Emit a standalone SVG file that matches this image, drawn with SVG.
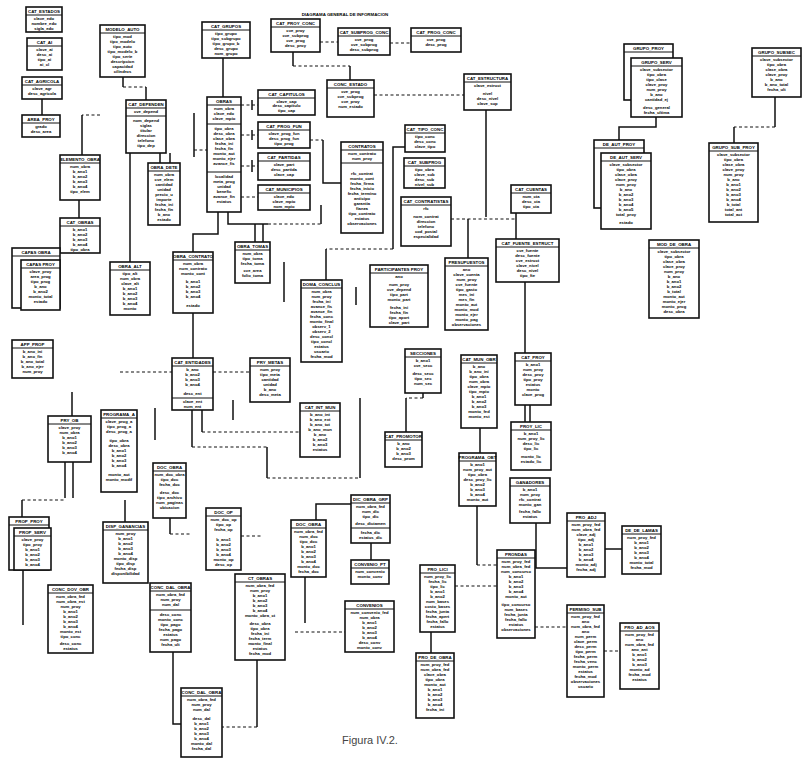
<svg xmlns="http://www.w3.org/2000/svg" width="802" height="758" viewBox="0 0 802 758">
<style>
.b{fill:#fff;stroke:#111;stroke-width:1.6}
.s{fill:none;stroke:#111;stroke-width:1.5}
.d{fill:none;stroke:#111;stroke-width:1.2;stroke-dasharray:3 2.5}
.v{fill:none;stroke:#111;stroke-width:1}
.h{font:bold 4.4px "Liberation Sans",Arial,sans-serif;fill:#000;text-anchor:middle}
.r{font:bold 4.2px "Liberation Sans",Arial,sans-serif;fill:#000;text-anchor:middle}
.cap{font:11px "Liberation Sans",Arial,sans-serif;fill:#444;text-anchor:middle}
</style>
<rect width="802" height="758" fill="#fff"/>
<text class="h" x="345" y="15.5">DIAGRAMA GENERAL DE INFORMACION</text>

<g id="connectors">
<path class="s" d="M42,99V115M123,77V87M146,87V100M223,58V97M82,115V155M160,153V163M170,153V163M194,113V157"/>
<path class="d" d="M123,87H146M100,115H82M194,150H207M241,105H258M241,135H258M241,166H258M241,197H258"/>
<path class="s" d="M252,100V110M252,130V140M252,160V172"/>
<path class="s" d="M293,52V66M350,66V80"/>
<path class="d" d="M293,66H350M320,42H338M390,43H411M374,95H464"/>
<path class="s" d="M486,110V217M468,219V258M516,213V239"/>
<path class="d" d="M451,219H516M310,140H323"/>
<path class="s" d="M323,140V183H341M405,147H393V249M326,249V280"/>
<path class="d" d="M393,249H326"/>
<path class="s" d="M218,212V234H193V252M228,212V224H268M321,224V205M255,224V242M263,224V242"/>
<path class="d" d="M268,224H321"/>
<path class="s" d="M130,153V262M79,200V218M193,313V358"/>
<path class="d" d="M120,372H172M213,372H250M202,432H300M192,447H267M267,478H360"/>
<path class="s" d="M202,410V432M192,410V447M267,447V478M360,478V398M233,400V420M155,408V440"/>
<path class="s" d="M525,282V353M525,405V422M530,405V422M480,428V453M477,506V565"/>
<path class="d" d="M477,565H497M423,398H406M775,127H734"/>
<path class="s" d="M423,393V398M406,398V432M656,117V127H619V140M775,97V127M734,127V143"/>
<path class="s" d="M72,392V416M65,462V498M73,462V498M22,500V517M125,500V522M170,518V534"/>
<path class="d" d="M22,500H65M170,534H190M241,536H262"/>
<path class="s" d="M173,652V724H181M257,660V727M23,570V625M305,577V623M371,543V560M351,504H316V520M431,632V653"/>
<path class="d" d="M257,727H222M295,632H345M455,586H497M535,627H567M604,651H620"/>
<path class="s" d="M605,549H622M536,523V568H567M284,262V302M356,287V305"/>
</g>

<g id="cat_estados"><rect class="b" x="26" y="7" width="36" height="25"/><path class="v" d="M26,15h36"/><text class="h" x="44" y="13">CAT_ESTADOS</text><text class="r" y="20"><tspan x="44">clave_edo</tspan><tspan x="44" dy="5">nombre_edo</tspan><tspan x="44" dy="5">sigla_edo</tspan></text></g>
<g id="cat_ai"><rect class="b" x="27" y="38" width="35" height="32"/><path class="v" d="M27,46h35"/><text class="h" x="44.5" y="44">CAT_AI</text><text class="r" y="51"><tspan x="44.5">clave_ai</tspan><tspan x="44.5" dy="5">desc_ai</tspan><tspan x="44.5" dy="5">tipo_ai</tspan><tspan x="44.5" dy="5">ai_cl</tspan></text></g>
<g id="cat_agricola"><rect class="b" x="22" y="77" width="40" height="22"/><path class="v" d="M22,85h40"/><text class="h" x="42" y="83">CAT_AGRICOLA</text><text class="r" y="90"><tspan x="42">clave_agr</tspan><tspan x="42" dy="5">desc_agricola</tspan></text></g>
<g id="area_proy"><rect class="b" x="22" y="115" width="38" height="22"/><path class="v" d="M22,123h38"/><text class="h" x="41" y="121">AREA_PROY</text><text class="r" y="128"><tspan x="41">grado</tspan><tspan x="41" dy="5">desc_area</tspan></text></g>
<g id="modelo_auto"><rect class="b" x="100" y="25" width="45" height="52"/><path class="v" d="M100,33h45"/><text class="h" x="122.5" y="31">MODELO_AUTO</text><text class="r" y="38"><tspan x="122.5">tipo_mod</tspan><tspan x="122.5" dy="5">tipo_modelo</tspan><tspan x="122.5" dy="5">tipo_auto</tspan><tspan x="122.5" dy="5">tipo_modelo_b</tspan><tspan x="122.5" dy="5">tipo_serie</tspan><tspan x="122.5" dy="5">descripcion</tspan><tspan x="122.5" dy="5">capacidad</tspan><tspan x="122.5" dy="5">cilindros</tspan></text></g>
<g id="cat_grupos"><rect class="b" x="202" y="22" width="48" height="36"/><path class="v" d="M202,30h48"/><text class="h" x="226" y="28">CAT_GRUPOS</text><text class="r" y="35"><tspan x="226">tipo_grupo</tspan><tspan x="226" dy="5">tipo_subgrupo</tspan><tspan x="226" dy="5">tipo_grupo_b</tspan><tspan x="226" dy="5">desc_grupo</tspan><tspan x="226" dy="5">nom_grupo</tspan></text></g>
<g id="cat_proy_conc"><rect class="b" x="271" y="19" width="49" height="33"/><path class="v" d="M271,27h49"/><text class="h" x="295.5" y="25">CAT_PROY_CONC</text><text class="r" y="32"><tspan x="295.5">cve_proy</tspan><tspan x="295.5" dy="5">cve_subprog</tspan><tspan x="295.5" dy="5">cve_prog</tspan><tspan x="295.5" dy="5">desc_proy</tspan></text></g>
<g id="cat_subprog_conc"><rect class="b" x="338" y="28" width="52" height="27"/><path class="v" d="M338,36h52"/><text class="h" x="364" y="34">CAT_SUBPROG_CONC</text><text class="r" y="41"><tspan x="364">cve_prog</tspan><tspan x="364" dy="5">cve_subprog</tspan><tspan x="364" dy="5">desc_subprog</tspan></text></g>
<g id="cat_prog_conc"><rect class="b" x="411" y="28" width="50" height="24"/><path class="v" d="M411,36h50"/><text class="h" x="436" y="34">CAT_PROG_CONC</text><text class="r" y="41"><tspan x="436">cve_prog</tspan><tspan x="436" dy="5">desc_prog</tspan></text></g>
<g id="conc_estado"><rect class="b" x="327" y="80" width="47" height="37"/><path class="v" d="M327,88h47"/><text class="h" x="350.5" y="86">CONC_ESTADO</text><text class="r" y="93"><tspan x="350.5">cve_prog</tspan><tspan x="350.5" dy="5">cve_subprog</tspan><tspan x="350.5" dy="5">cve_proy</tspan><tspan x="350.5" dy="5">num_estado</tspan></text></g>
<g id="cat_estructura"><rect class="b" x="464" y="74" width="47" height="36"/><path class="v" d="M464,82h47"/><text class="h" x="487.5" y="80">CAT_ESTRUCTURA</text><text class="r" y="87"><tspan x="487.5">clave_estruct</tspan><tspan x="487.5" dy="8">nivel</tspan><tspan x="487.5" dy="5">desc_nivel</tspan><tspan x="487.5" dy="5">clave_sup</tspan></text></g>
<g id="grupo_serv"><rect class="b" x="624" y="44" width="49" height="56"/><path class="v" d="M624,52h49"/><text class="h" x="648.5" y="50">GRUPO_PROY</text><rect class="b" x="631" y="58" width="51" height="59"/><path class="v" d="M631,66h51"/><text class="h" x="656.5" y="64">GRUPO_SERV</text><text class="r" y="71"><tspan x="656.5">clave_subsector</tspan><tspan x="656.5" dy="5">tipo_obra</tspan><tspan x="656.5" dy="5">tipo_clase</tspan><tspan x="656.5" dy="5">clave_proy</tspan><tspan x="656.5" dy="5">num_proy</tspan><tspan x="656.5" dy="5">b_ano</tspan><tspan x="656.5" dy="5">cantidad_ej</tspan><tspan x="656.5" dy="8">desc_general</tspan><tspan x="656.5" dy="5">fecha_ultima</tspan></text></g>
<g id="de_aut_serv"><rect class="b" x="594" y="140" width="50" height="68"/><path class="v" d="M594,148h50"/><text class="h" x="619" y="146">DE_AUT_PROY</text><rect class="b" x="601" y="153" width="50" height="76"/><path class="v" d="M601,161h50"/><text class="h" x="626" y="159">DE_AUT_SERV</text><text class="r" y="166"><tspan x="626">clave_subsector</tspan><tspan x="626" dy="5">tipo_obra</tspan><tspan x="626" dy="5">clase_obra</tspan><tspan x="626" dy="5">clave_proy</tspan><tspan x="626" dy="5">num_proy</tspan><tspan x="626" dy="5">b_ano</tspan><tspan x="626" dy="5">b_ano2</tspan><tspan x="626" dy="5">b_ano3</tspan><tspan x="626" dy="5">b_ano4</tspan><tspan x="626" dy="5">b_ano5</tspan><tspan x="626" dy="5">total_proy</tspan><tspan x="626" dy="8">estado</tspan></text></g>
<g id="grupo_subsec"><rect class="b" x="752" y="48" width="49" height="49"/><path class="v" d="M752,56h49"/><text class="h" x="776.5" y="54">GRUPO_SUBSEC</text><text class="r" y="61"><tspan x="776.5">clave_subsector</tspan><tspan x="776.5" dy="5">tipo_obra</tspan><tspan x="776.5" dy="5">clase_obra</tspan><tspan x="776.5" dy="5">clave_proy</tspan><tspan x="776.5" dy="5">b_ano</tspan><tspan x="776.5" dy="5">b_ano_total</tspan><tspan x="776.5" dy="5">fecha_ult</tspan></text></g>
<g id="grupo_sub_proy"><rect class="b" x="709" y="143" width="49" height="79"/><path class="v" d="M709,151h49"/><text class="h" x="733.5" y="149">GRUPO_SUB_PROY</text><text class="r" y="156"><tspan x="733.5">clave_subsector</tspan><tspan x="733.5" dy="5">tipo_obra</tspan><tspan x="733.5" dy="5">clase_obra</tspan><tspan x="733.5" dy="5">clave_proy</tspan><tspan x="733.5" dy="5">num_proy</tspan><tspan x="733.5" dy="5">b_ano</tspan><tspan x="733.5" dy="5">b_ano1</tspan><tspan x="733.5" dy="5">b_ano2</tspan><tspan x="733.5" dy="5">b_ano3</tspan><tspan x="733.5" dy="5">b_ano4</tspan><tspan x="733.5" dy="5">b_total</tspan><tspan x="733.5" dy="5">total_ant</tspan><tspan x="733.5" dy="5">total_act</tspan></text></g>
<g id="mod_de_obra"><rect class="b" x="649" y="240" width="50" height="78"/><path class="v" d="M649,248h50"/><text class="h" x="674" y="246">MOD_DE_OBRA</text><text class="r" y="253"><tspan x="674">clave_subsector</tspan><tspan x="674" dy="5">tipo_obra</tspan><tspan x="674" dy="5">clase_obra</tspan><tspan x="674" dy="5">clave_proy</tspan><tspan x="674" dy="5">num_proy</tspan><tspan x="674" dy="5">b_ano</tspan><tspan x="674" dy="5">b_ano1</tspan><tspan x="674" dy="5">b_ano2</tspan><tspan x="674" dy="5">b_total</tspan><tspan x="674" dy="5">monto_aut</tspan><tspan x="674" dy="5">monto_ejer</tspan><tspan x="674" dy="5">monto_prog</tspan><tspan x="674" dy="5">desc_obra</tspan></text></g>
<g id="cat_cuentas"><rect class="b" x="511" y="185" width="40" height="28"/><path class="v" d="M511,193h40"/><text class="h" x="531" y="191">CAT_CUENTAS</text><text class="r" y="198"><tspan x="531">num_cta</tspan><tspan x="531" dy="5">desc_cta</tspan><tspan x="531" dy="5">tipo_cta</tspan></text></g>
<g id="cat_fuente"><rect class="b" x="496" y="239" width="63" height="43"/><path class="v" d="M496,247h63"/><text class="h" x="527.5" y="245">CAT_FUENTE_ESTRUCT</text><text class="r" y="252"><tspan x="527.5">cve_fuente</tspan><tspan x="527.5" dy="5">desc_fuente</tspan><tspan x="527.5" dy="5">cve_estruct</tspan><tspan x="527.5" dy="5">clave_nivel</tspan><tspan x="527.5" dy="5">desc_nivel</tspan><tspan x="527.5" dy="5">tipo_fte</tspan></text></g>
<g id="presupuestos"><rect class="b" x="445" y="258" width="43" height="72"/><path class="v" d="M445,266h43"/><text class="h" x="466.5" y="264">PRESUPUESTOS</text><text class="r" y="271"><tspan x="466.5">ano</tspan><tspan x="466.5" dy="5">clave_cuenta</tspan><tspan x="466.5" dy="5">num_proy</tspan><tspan x="466.5" dy="5">cve_fuente</tspan><tspan x="466.5" dy="5">tipo_gasto</tspan><tspan x="466.5" dy="5">mes_ini</tspan><tspan x="466.5" dy="5">mes_fin</tspan><tspan x="466.5" dy="5">monto_aut</tspan><tspan x="466.5" dy="5">monto_mod</tspan><tspan x="466.5" dy="5">monto_ejer</tspan><tspan x="466.5" dy="5">monto_pag</tspan><tspan x="466.5" dy="5">observaciones</tspan></text></g>
<g id="participantes"><rect class="b" x="370" y="265" width="58" height="62"/><path class="v" d="M370,273h58"/><text class="h" x="399" y="271">PARTICIPANTES PROY</text><text class="r" y="278"><tspan x="399">ano</tspan><tspan x="399" dy="8">num_proy</tspan><tspan x="399" dy="5">cve_depend</tspan><tspan x="399" dy="5">tipo_part</tspan><tspan x="399" dy="5">monto_part</tspan><tspan x="399" dy="8">fecha_ini</tspan><tspan x="399" dy="5">fecha_fin</tspan><tspan x="399" dy="5">tipo_aport</tspan><tspan x="399" dy="5">clave_part</tspan></text></g>
<g id="doma_conclus"><rect class="b" x="301" y="280" width="41" height="82"/><path class="v" d="M301,288h41"/><text class="h" x="321.5" y="286">DOMA_CONCLUS</text><text class="r" y="293"><tspan x="321.5">num_obra</tspan><tspan x="321.5" dy="5">num_proy</tspan><tspan x="321.5" dy="5">fecha_ini</tspan><tspan x="321.5" dy="5">avance_fis</tspan><tspan x="321.5" dy="5">avance_fin</tspan><tspan x="321.5" dy="5">fecha_conc</tspan><tspan x="321.5" dy="5">monto_final</tspan><tspan x="321.5" dy="5">observ_1</tspan><tspan x="321.5" dy="5">observ_2</tspan><tspan x="321.5" dy="5">desc_concl</tspan><tspan x="321.5" dy="5">tipo_concl</tspan><tspan x="321.5" dy="5">estatus</tspan><tspan x="321.5" dy="5">usuario</tspan><tspan x="321.5" dy="5">fecha_mod</tspan></text></g>
<g id="cat_contratistas"><rect class="b" x="401" y="197" width="50" height="49"/><path class="v" d="M401,205h50"/><text class="h" x="426" y="203">CAT_CONTRATISTAS</text><text class="r" y="210"><tspan x="426">rfc</tspan><tspan x="426" dy="8">nom_contrat</tspan><tspan x="426" dy="5">direccion</tspan><tspan x="426" dy="5">telefono</tspan><tspan x="426" dy="5">cod_postal</tspan><tspan x="426" dy="5">especialidad</tspan></text></g>
<g id="cat_tipo_conc"><rect class="b" x="405" y="125" width="40" height="27"/><path class="v" d="M405,133h40"/><text class="h" x="425" y="131">CAT_TIPO_CONC</text><text class="r" y="138"><tspan x="425">tipo_conc</tspan><tspan x="425" dy="5">desc_conc</tspan><tspan x="425" dy="5">clave_tipo</tspan></text></g>
<g id="cat_subprog_obra"><rect class="b" x="404" y="158" width="41" height="30"/><path class="v" d="M404,166h41"/><text class="h" x="424.5" y="164">CAT_SUBPROG</text><text class="r" y="171"><tspan x="424.5">tipo_obra</tspan><tspan x="424.5" dy="5">clave_sub</tspan><tspan x="424.5" dy="5">desc_sub</tspan><tspan x="424.5" dy="5">nivel_sub</tspan></text></g>
<g id="contratos"><rect class="b" x="341" y="142" width="42" height="91"/><path class="v" d="M341,150h42M341,163h42"/><text class="h" x="362" y="148">CONTRATOS</text><text class="r" y="155"><tspan x="362">num_contrato</tspan><tspan x="362" dy="5">num_proy</tspan><tspan x="362" dy="15">rfc_contrat</tspan><tspan x="362" dy="5">monto_cont</tspan><tspan x="362" dy="5">fecha_firma</tspan><tspan x="362" dy="5">fecha_inicio</tspan><tspan x="362" dy="5">fecha_termino</tspan><tspan x="362" dy="5">anticipo</tspan><tspan x="362" dy="5">garantia</tspan><tspan x="362" dy="5">fianza</tspan><tspan x="362" dy="5">tipo_contrato</tspan><tspan x="362" dy="5">estatus</tspan><tspan x="362" dy="5">observaciones</tspan></text></g>
<g id="cat_capitulos"><rect class="b" x="258" y="90" width="57" height="25"/><path class="v" d="M258,98h57"/><text class="h" x="286.5" y="96">CAT_CAPITULOS</text><text class="r" y="102.5"><tspan x="286.5">clave_cap</tspan><tspan x="286.5" dy="4.5">desc_capitulo</tspan><tspan x="286.5" dy="4.5">tipo_cap</tspan></text></g>
<g id="cat_prog_fun"><rect class="b" x="258" y="122" width="52" height="26"/><path class="v" d="M258,130h52"/><text class="h" x="284" y="128">CAT_PROG_FUN</text><text class="r" y="135"><tspan x="284">clave_prog_fun</tspan><tspan x="284" dy="5">desc_prog_fun</tspan><tspan x="284" dy="5">tipo_prog</tspan></text></g>
<g id="cat_partidas"><rect class="b" x="258" y="153" width="52" height="27"/><path class="v" d="M258,161h52"/><text class="h" x="284" y="159">CAT_PARTIDAS</text><text class="r" y="166"><tspan x="284">clave_part</tspan><tspan x="284" dy="5">desc_partida</tspan><tspan x="284" dy="5">clave_cap</tspan></text></g>
<g id="cat_municipios"><rect class="b" x="258" y="185" width="52" height="25"/><path class="v" d="M258,193h52"/><text class="h" x="284" y="191">CAT_MUNICIPIOS</text><text class="r" y="198"><tspan x="284">clave_edo</tspan><tspan x="284" dy="5">clave_mpio</tspan><tspan x="284" dy="5">nom_mpio</tspan></text></g>
<g id="obras"><rect class="b" x="207" y="97" width="34" height="115"/><path class="v" d="M207,105h34M207,124h34M207,172h34"/><text class="h" x="224" y="103">OBRAS</text><text class="r" y="110"><tspan x="224">num_obra</tspan><tspan x="224" dy="5">clave_edo</tspan><tspan x="224" dy="5">clave_mpio</tspan><tspan x="224" dy="10">tipo_obra</tspan><tspan x="224" dy="5">desc_obra</tspan><tspan x="224" dy="5">clase_obra</tspan><tspan x="224" dy="5">fecha_ini</tspan><tspan x="224" dy="5">fecha_fin</tspan><tspan x="224" dy="5">monto_aut</tspan><tspan x="224" dy="5">monto_ejer</tspan><tspan x="224" dy="5">avance_fis</tspan><tspan x="224" dy="13">localidad</tspan><tspan x="224" dy="5">meta_prog</tspan><tspan x="224" dy="5">unidad</tspan><tspan x="224" dy="5">benefic</tspan><tspan x="224" dy="5">avance_fin</tspan><tspan x="224" dy="5">estatus</tspan></text></g>
<g id="cat_dependen"><rect class="b" x="126" y="100" width="40" height="53"/><path class="v" d="M126,108h40M126,116h40"/><text class="h" x="146" y="106">CAT_DEPENDEN</text><text class="r" y="113"><tspan x="146">cve_depend</tspan><tspan x="146" dy="9">nom_depend</tspan><tspan x="146" dy="5">siglas</tspan><tspan x="146" dy="5">titular</tspan><tspan x="146" dy="5">direccion</tspan><tspan x="146" dy="5">telefono</tspan><tspan x="146" dy="5">tipo_dep</tspan></text></g>
<g id="elemento_obra"><rect class="b" x="60" y="155" width="40" height="45"/><path class="v" d="M60,163h40"/><text class="h" x="80" y="161">ELEMENTO_OBRA</text><text class="r" y="168"><tspan x="80">num_obra</tspan><tspan x="80" dy="5">b_ano1</tspan><tspan x="80" dy="5">b_ano2</tspan><tspan x="80" dy="5">b_ano3</tspan><tspan x="80" dy="5">b_ano4</tspan><tspan x="80" dy="5">tipo_elem</tspan></text></g>
<g id="obra_dete"><rect class="b" x="148" y="163" width="32" height="62"/><path class="v" d="M148,171h32"/><text class="h" x="164" y="169">OBRA_DETE</text><text class="r" y="176"><tspan x="164">num_obra</tspan><tspan x="164" dy="5">cve_elem</tspan><tspan x="164" dy="5">cantidad</tspan><tspan x="164" dy="5">unidad</tspan><tspan x="164" dy="5">precio_u</tspan><tspan x="164" dy="5">importe</tspan><tspan x="164" dy="5">fecha_ini</tspan><tspan x="164" dy="5">fecha_fin</tspan><tspan x="164" dy="5">b_ano</tspan><tspan x="164" dy="5">estado</tspan></text></g>
<g id="cat_obras"><rect class="b" x="60" y="218" width="40" height="35"/><path class="v" d="M60,226h40"/><text class="h" x="80" y="224">CAT_OBRAS</text><text class="r" y="231"><tspan x="80">b_ano1</tspan><tspan x="80" dy="5">b_ano2</tspan><tspan x="80" dy="5">b_ano3</tspan><tspan x="80" dy="5">b_ano4</tspan><tspan x="80" dy="5">tipo_obra</tspan></text></g>
<g id="capas_proy"><rect class="b" x="12" y="248" width="48" height="60"/><path class="v" d="M12,256h48"/><text class="h" x="36" y="254">CAPAS OBRA</text><rect class="b" x="21" y="260" width="39" height="50"/><path class="v" d="M21,268h39"/><text class="h" x="40.5" y="266">CAPAS PROY</text><text class="r" y="273"><tspan x="40.5">clave_proy</tspan><tspan x="40.5" dy="5">area_prog</tspan><tspan x="40.5" dy="5">tipo_prog</tspan><tspan x="40.5" dy="5">b_ano</tspan><tspan x="40.5" dy="5">b_ano2</tspan><tspan x="40.5" dy="5">monto_total</tspan><tspan x="40.5" dy="5">estado</tspan></text></g>
<g id="obra_alt"><rect class="b" x="110" y="262" width="40" height="53"/><path class="v" d="M110,270h40"/><text class="h" x="130" y="268">OBRA_ALT</text><text class="r" y="275"><tspan x="130">tipo_alt</tspan><tspan x="130" dy="5">num_obra</tspan><tspan x="130" dy="5">clave_alt</tspan><tspan x="130" dy="5">b_ano1</tspan><tspan x="130" dy="5">b_ano2</tspan><tspan x="130" dy="5">b_ano3</tspan><tspan x="130" dy="5">b_ano4</tspan><tspan x="130" dy="5">monto</tspan></text></g>
<g id="obra_contrato"><rect class="b" x="173" y="252" width="40" height="61"/><path class="v" d="M173,260h40"/><text class="h" x="193" y="258">OBRA_CONTRATO</text><text class="r" y="265"><tspan x="193">num_obra</tspan><tspan x="193" dy="5">num_contrato</tspan><tspan x="193" dy="5">monto_cont</tspan><tspan x="193" dy="8">b_ano1</tspan><tspan x="193" dy="5">b_ano2</tspan><tspan x="193" dy="5">b_ano3</tspan><tspan x="193" dy="5">b_ano4</tspan><tspan x="193" dy="9">estado</tspan></text></g>
<g id="obra_tomas"><rect class="b" x="235" y="242" width="35" height="41"/><path class="v" d="M235,250h35"/><text class="h" x="252.5" y="248">OBRA_TOMAS</text><text class="r" y="255"><tspan x="252.5">num_obra</tspan><tspan x="252.5" dy="5">tipo_toma</tspan><tspan x="252.5" dy="5">fecha_toma</tspan><tspan x="252.5" dy="7">cve_area</tspan><tspan x="252.5" dy="5">folio_toma</tspan></text></g>
<g id="app_prop"><rect class="b" x="12" y="340" width="41" height="38"/><path class="v" d="M12,348h41"/><text class="h" x="32.5" y="346">APP_PROP</text><text class="r" y="353"><tspan x="32.5">b_ano_ini</tspan><tspan x="32.5" dy="5">b_ano_fin</tspan><tspan x="32.5" dy="5">b_ano_total</tspan><tspan x="32.5" dy="5">b_ano_ejer</tspan><tspan x="32.5" dy="5">num_proy</tspan></text></g>
<g id="cat_entidades"><rect class="b" x="172" y="358" width="41" height="52"/><path class="v" d="M172,366h41M172,398h41"/><text class="h" x="192.5" y="364">CAT_ENTIDADES</text><text class="r" y="371"><tspan x="192.5">b_ano</tspan><tspan x="192.5" dy="5">b_ano2</tspan><tspan x="192.5" dy="5">b_ano3</tspan><tspan x="192.5" dy="5">b_ano4</tspan><tspan x="192.5" dy="9">desc_ent</tspan><tspan x="192.5" dy="8">clave_ent</tspan><tspan x="192.5" dy="5">num_ent</tspan></text></g>
<g id="pry_metas"><rect class="b" x="250" y="358" width="40" height="44"/><path class="v" d="M250,366h40"/><text class="h" x="270" y="364">PRY_METAS</text><text class="r" y="371"><tspan x="270">num_proy</tspan><tspan x="270" dy="5">tipo_meta</tspan><tspan x="270" dy="5">cantidad</tspan><tspan x="270" dy="5">unidad</tspan><tspan x="270" dy="5">b_ano</tspan><tspan x="270" dy="5">desc_meta</tspan></text></g>
<g id="cat_int_mun"><rect class="b" x="300" y="403" width="40" height="54"/><path class="v" d="M300,411h40"/><text class="h" x="320" y="409">CAT_INT_MUN</text><text class="r" y="416"><tspan x="320">b_ano_int</tspan><tspan x="320" dy="5">b_ano_ext</tspan><tspan x="320" dy="5">b_ano_tot</tspan><tspan x="320" dy="5">b_ano_mun</tspan><tspan x="320" dy="5">b_ano</tspan><tspan x="320" dy="5">b_ano2</tspan><tspan x="320" dy="5">b_ano3</tspan><tspan x="320" dy="5">estatus</tspan></text></g>
<g id="secciones"><rect class="b" x="405" y="349" width="36" height="44"/><path class="v" d="M405,357h36"/><text class="h" x="423" y="355">SECCIONES</text><text class="r" y="362"><tspan x="423">b_ano1</tspan><tspan x="423" dy="5">cve_secc</tspan><tspan x="423" dy="8">desc_secc</tspan><tspan x="423" dy="5">tipo_sec</tspan><tspan x="423" dy="5">num_sec</tspan></text></g>
<g id="cat_promotor"><rect class="b" x="385" y="432" width="37" height="35"/><path class="v" d="M385,440h37"/><text class="h" x="403.5" y="438">CAT_PROMOTOR</text><text class="r" y="445"><tspan x="403.5">b_ano</tspan><tspan x="403.5" dy="5">b_ano2</tspan><tspan x="403.5" dy="5">b_ano3</tspan><tspan x="403.5" dy="5">desc_prom</tspan></text></g>
<g id="cat_mun_obr"><rect class="b" x="461" y="355" width="36" height="73"/><path class="v" d="M461,363h36"/><text class="h" x="479" y="361">CAT_MUN_OBR</text><text class="r" y="368"><tspan x="479">b_ano</tspan><tspan x="479" dy="5">b_ano_ini</tspan><tspan x="479" dy="5">tipo_obra</tspan><tspan x="479" dy="5">num_obra</tspan><tspan x="479" dy="5">clave_mpio</tspan><tspan x="479" dy="5">tipo_mpio</tspan><tspan x="479" dy="5">b_ano1</tspan><tspan x="479" dy="5">b_ano2</tspan><tspan x="479" dy="5">b_ano3</tspan><tspan x="479" dy="5">monto_fed</tspan><tspan x="479" dy="5">monto_est</tspan></text></g>
<g id="programa_obt"><rect class="b" x="459" y="453" width="37" height="53"/><path class="v" d="M459,461h37"/><text class="h" x="477.5" y="459">PROGRAMA_OBT</text><text class="r" y="466"><tspan x="477.5">b_ano1</tspan><tspan x="477.5" dy="5">num_proy_aut</tspan><tspan x="477.5" dy="5">tipo_obra</tspan><tspan x="477.5" dy="5">desc_proy_lic</tspan><tspan x="477.5" dy="5">b_ano2</tspan><tspan x="477.5" dy="5">b_ano3</tspan><tspan x="477.5" dy="5">b_ano4</tspan><tspan x="477.5" dy="5">monto_aut</tspan></text></g>
<g id="cat_proy"><rect class="b" x="515" y="353" width="36" height="52"/><path class="v" d="M515,361h36"/><text class="h" x="533" y="359">CAT_PROY</text><text class="r" y="366"><tspan x="533">b_ano1</tspan><tspan x="533" dy="5">num_proy</tspan><tspan x="533" dy="5">desc_proy</tspan><tspan x="533" dy="5">tipo_proy</tspan><tspan x="533" dy="5">estatus</tspan><tspan x="533" dy="5">monto</tspan><tspan x="533" dy="5">clave_prog</tspan></text></g>
<g id="proy_lic"><rect class="b" x="511" y="422" width="40" height="48"/><path class="v" d="M511,430h40"/><text class="h" x="531" y="428">PROY_LIC</text><text class="r" y="435"><tspan x="531">b_ano1</tspan><tspan x="531" dy="5">num_proy_lic</tspan><tspan x="531" dy="5">desc_lic</tspan><tspan x="531" dy="5">tipo_lic</tspan><tspan x="531" dy="8">monto_lic</tspan><tspan x="531" dy="5">estado_lic</tspan></text></g>
<g id="ganadores"><rect class="b" x="510" y="478" width="40" height="45"/><path class="v" d="M510,486h40"/><text class="h" x="530" y="484">GANADORES</text><text class="r" y="491"><tspan x="530">b_ano1</tspan><tspan x="530" dy="5">num_proy</tspan><tspan x="530" dy="5">rfc_contrat</tspan><tspan x="530" dy="5">monto_gan</tspan><tspan x="530" dy="7">fecha_fallo</tspan><tspan x="530" dy="5">estatus</tspan></text></g>
<g id="pry_ob"><rect class="b" x="48" y="416" width="43" height="46"/><path class="v" d="M48,424h43"/><text class="h" x="69.5" y="422">PRY_OB</text><text class="r" y="429"><tspan x="69.5">clave_proy</tspan><tspan x="69.5" dy="5">num_obra</tspan><tspan x="69.5" dy="5">b_ano1</tspan><tspan x="69.5" dy="5">b_ano2</tspan><tspan x="69.5" dy="5">b_ano3</tspan><tspan x="69.5" dy="5">b_ano4</tspan></text></g>
<g id="programa_a"><rect class="b" x="101" y="410" width="36" height="82"/><path class="v" d="M101,418h36"/><text class="h" x="119" y="416">PROGRAMA_A</text><text class="r" y="423"><tspan x="119">clave_prog_a</tspan><tspan x="119" dy="5">tipo_prog_a</tspan><tspan x="119" dy="5">desc_prog_a</tspan><tspan x="119" dy="9">tipo_obra</tspan><tspan x="119" dy="5">desc_obra</tspan><tspan x="119" dy="5">b_ano1</tspan><tspan x="119" dy="5">b_ano2</tspan><tspan x="119" dy="5">b_ano3</tspan><tspan x="119" dy="5">b_ano4</tspan><tspan x="119" dy="9">monto_aut</tspan><tspan x="119" dy="5">monto_modif</tspan></text></g>
<g id="doc_obra"><rect class="b" x="153" y="463" width="33" height="55"/><path class="v" d="M153,471h33"/><text class="h" x="169.5" y="469">DOC_OBRA</text><text class="r" y="476"><tspan x="169.5">num_doc_obra</tspan><tspan x="169.5" dy="5">tipo_doc</tspan><tspan x="169.5" dy="5">fecha_doc</tspan><tspan x="169.5" dy="8">desc_doc</tspan><tspan x="169.5" dy="5">tipo_archivo</tspan><tspan x="169.5" dy="5">num_paginas</tspan><tspan x="169.5" dy="5">ubicacion</tspan></text></g>
<g id="doc_op"><rect class="b" x="206" y="508" width="35" height="62"/><path class="v" d="M206,516h35"/><text class="h" x="223.5" y="514">DOC_OP</text><text class="r" y="521"><tspan x="223.5">num_doc_op</tspan><tspan x="223.5" dy="5">tipo_op</tspan><tspan x="223.5" dy="5">fecha_op</tspan><tspan x="223.5" dy="10">b_ano1</tspan><tspan x="223.5" dy="5">b_ano2</tspan><tspan x="223.5" dy="5">b_ano3</tspan><tspan x="223.5" dy="5">b_ano4</tspan><tspan x="223.5" dy="5">monto_op</tspan><tspan x="223.5" dy="5">desc_op</tspan></text></g>
<g id="prop_serv"><rect class="b" x="9" y="517" width="40" height="53"/><path class="v" d="M9,525h40"/><text class="h" x="29" y="523">PROP_PROY</text><rect class="b" x="14" y="528" width="37" height="42"/><path class="v" d="M14,536h37"/><text class="h" x="32.5" y="534">PROP_SERV</text><text class="r" y="541"><tspan x="32.5">clave_proy</tspan><tspan x="32.5" dy="5">tipo_proy</tspan><tspan x="32.5" dy="5">b_ano1</tspan><tspan x="32.5" dy="5">b_ano2</tspan><tspan x="32.5" dy="5">b_ano3</tspan><tspan x="32.5" dy="5">b_ano4</tspan></text></g>
<g id="disp_ganancias"><rect class="b" x="103" y="522" width="45" height="61"/><path class="v" d="M103,530h45"/><text class="h" x="125.5" y="528">DISP_GANANCIAS</text><text class="r" y="535"><tspan x="125.5">num_proy</tspan><tspan x="125.5" dy="5">b_ano1</tspan><tspan x="125.5" dy="5">b_ano2</tspan><tspan x="125.5" dy="5">b_ano3</tspan><tspan x="125.5" dy="5">b_ano4</tspan><tspan x="125.5" dy="5">monto_disp</tspan><tspan x="125.5" dy="5">tipo_disp</tspan><tspan x="125.5" dy="5">fecha_disp</tspan><tspan x="125.5" dy="5">disponibilidad</tspan></text></g>
<g id="conc_dov_obr"><rect class="b" x="48" y="585" width="45" height="68"/><path class="v" d="M48,593h45"/><text class="h" x="70.5" y="591">CONC_DOV_OBR</text><text class="r" y="598"><tspan x="70.5">num_obra_fed</tspan><tspan x="70.5" dy="5">num_obra_est</tspan><tspan x="70.5" dy="5">num_proy</tspan><tspan x="70.5" dy="5">b_ano1</tspan><tspan x="70.5" dy="5">b_ano2</tspan><tspan x="70.5" dy="5">b_ano3</tspan><tspan x="70.5" dy="5">b_ano4</tspan><tspan x="70.5" dy="5">monto_est</tspan><tspan x="70.5" dy="5">tipo_conc</tspan><tspan x="70.5" dy="7">desc_conc</tspan><tspan x="70.5" dy="5">estatus</tspan></text></g>
<g id="conc_dal_obra"><rect class="b" x="150" y="583" width="41" height="69"/><path class="v" d="M150,591h41M150,610h41"/><text class="h" x="170.5" y="589">CONC_DAL_OBRA</text><text class="r" y="596"><tspan x="170.5">num_obra_fed</tspan><tspan x="170.5" dy="5">num_proy</tspan><tspan x="170.5" dy="5">num_dal</tspan><tspan x="170.5" dy="10">desc_conc</tspan><tspan x="170.5" dy="5">monto_conc</tspan><tspan x="170.5" dy="5">tipo_pago</tspan><tspan x="170.5" dy="5">fecha_pago</tspan><tspan x="170.5" dy="5">estatus</tspan><tspan x="170.5" dy="5">num_pago</tspan><tspan x="170.5" dy="5">fecha_ult</tspan></text></g>
<g id="conc_dal_obra_2"><rect class="b" x="181" y="688" width="41" height="69"/><path class="v" d="M181,696h41"/><text class="h" x="201.5" y="694">CONC_DAL_OBRA</text><text class="r" y="701"><tspan x="201.5">num_obra_fed</tspan><tspan x="201.5" dy="5">num_proy</tspan><tspan x="201.5" dy="5">num_dal</tspan><tspan x="201.5" dy="9">desc_dal</tspan><tspan x="201.5" dy="5">b_ano1</tspan><tspan x="201.5" dy="5">b_ano2</tspan><tspan x="201.5" dy="5">b_ano3</tspan><tspan x="201.5" dy="5">b_ano4</tspan><tspan x="201.5" dy="5">monto_dal</tspan><tspan x="201.5" dy="5">fecha_dal</tspan></text></g>
<g id="ct_obras"><rect class="b" x="235" y="574" width="50" height="86"/><path class="v" d="M235,582h50"/><text class="h" x="260" y="580">CT_OBRAS</text><text class="r" y="587"><tspan x="260">num_obra_fed</tspan><tspan x="260" dy="5">num_proy</tspan><tspan x="260" dy="5">b_ano1</tspan><tspan x="260" dy="5">b_ano2</tspan><tspan x="260" dy="5">b_ano3</tspan><tspan x="260" dy="5">b_ano4</tspan><tspan x="260" dy="5">monto_obra_ct</tspan><tspan x="260" dy="8">desc_obra</tspan><tspan x="260" dy="5">tipo_obra</tspan><tspan x="260" dy="5">fecha_ini</tspan><tspan x="260" dy="5">fecha_term</tspan><tspan x="260" dy="5">monto_final</tspan><tspan x="260" dy="5">estatus</tspan><tspan x="260" dy="5">fecha_mod</tspan></text></g>
<g id="doc_obra_2"><rect class="b" x="291" y="520" width="35" height="57"/><path class="v" d="M291,528h35"/><text class="h" x="308.5" y="526">DOC_OBRA</text><text class="r" y="533"><tspan x="308.5">num_obra_fed</tspan><tspan x="308.5" dy="5">num_doc</tspan><tspan x="308.5" dy="5">tipo_doc</tspan><tspan x="308.5" dy="5">b_ano1</tspan><tspan x="308.5" dy="5">b_ano2</tspan><tspan x="308.5" dy="5">b_ano3</tspan><tspan x="308.5" dy="5">b_ano4</tspan><tspan x="308.5" dy="5">monto_doc</tspan><tspan x="308.5" dy="5">fecha_doc</tspan></text></g>
<g id="dic_obra"><rect class="b" x="351" y="495" width="39" height="48"/><path class="v" d="M351,503h39M351,528h39"/><text class="h" x="370.5" y="501">DIC_OBRA_GRP</text><text class="r" y="508"><tspan x="370.5">num_obra_fed</tspan><tspan x="370.5" dy="5">num_dic</tspan><tspan x="370.5" dy="5">tipo_dic</tspan><tspan x="370.5" dy="7">desc_dictamen</tspan><tspan x="370.5" dy="9">fecha_dic</tspan><tspan x="370.5" dy="5">estatus_dic</tspan></text></g>
<g id="convenio_pt"><rect class="b" x="351" y="560" width="38" height="24"/><path class="v" d="M351,568h38"/><text class="h" x="370" y="566">CONVENIO_PT</text><text class="r" y="573"><tspan x="370">num_convenio</tspan><tspan x="370" dy="5">monto_conv</tspan></text></g>
<g id="convenios"><rect class="b" x="345" y="601" width="49" height="51"/><path class="v" d="M345,609h49"/><text class="h" x="369.5" y="607">CONVENIOS</text><text class="r" y="614"><tspan x="369.5">num_convenio_fed</tspan><tspan x="369.5" dy="5">num_obra</tspan><tspan x="369.5" dy="5">b_ano1</tspan><tspan x="369.5" dy="5">b_ano2</tspan><tspan x="369.5" dy="5">b_ano3</tspan><tspan x="369.5" dy="5">b_ano4</tspan><tspan x="369.5" dy="5">desc_conv</tspan><tspan x="369.5" dy="5">monto_conv</tspan></text></g>
<g id="pro_lici"><rect class="b" x="420" y="565" width="35" height="67"/><path class="v" d="M420,573h35"/><text class="h" x="437.5" y="571">PRO_LICI</text><text class="r" y="578"><tspan x="437.5">num_proy_lic</tspan><tspan x="437.5" dy="5">fecha_lic</tspan><tspan x="437.5" dy="5">tipo_lic</tspan><tspan x="437.5" dy="5">b_ano1</tspan><tspan x="437.5" dy="5">b_ano2</tspan><tspan x="437.5" dy="5">num_bases</tspan><tspan x="437.5" dy="5">costo_bases</tspan><tspan x="437.5" dy="5">fecha_junta</tspan><tspan x="437.5" dy="5">fecha_apert</tspan><tspan x="437.5" dy="5">fecha_fallo</tspan><tspan x="437.5" dy="5">estatus</tspan></text></g>
<g id="pro_de_obra"><rect class="b" x="416" y="653" width="38" height="65"/><path class="v" d="M416,661h38"/><text class="h" x="435" y="659">PRO_DE_OBRA</text><text class="r" y="666"><tspan x="435">num_proy_fed</tspan><tspan x="435" dy="5">num_obra_fed</tspan><tspan x="435" dy="5">clave_obra</tspan><tspan x="435" dy="5">tipo_obra</tspan><tspan x="435" dy="5">monto_aut</tspan><tspan x="435" dy="5">b_ano1</tspan><tspan x="435" dy="5">b_ano2</tspan><tspan x="435" dy="5">b_ano3</tspan><tspan x="435" dy="5">b_ano4</tspan><tspan x="435" dy="5">fecha_ini</tspan></text></g>
<g id="prondas"><rect class="b" x="497" y="550" width="38" height="88"/><path class="v" d="M497,558h38"/><text class="h" x="516" y="556">PRONDAS</text><text class="r" y="563"><tspan x="516">num_proy_fed</tspan><tspan x="516" dy="5">num_obra_fed</tspan><tspan x="516" dy="5">num_concurso</tspan><tspan x="516" dy="5">b_ano1</tspan><tspan x="516" dy="5">b_ano2</tspan><tspan x="516" dy="5">b_ano3</tspan><tspan x="516" dy="5">b_ano4</tspan><tspan x="516" dy="5">monto_aut</tspan><tspan x="516" dy="8">tipo_concurso</tspan><tspan x="516" dy="5">num_bases</tspan><tspan x="516" dy="5">fecha_junta</tspan><tspan x="516" dy="5">fecha_fallo</tspan><tspan x="516" dy="5">estatus</tspan><tspan x="516" dy="5">observaciones</tspan></text></g>
<g id="pro_adj"><rect class="b" x="567" y="513" width="38" height="64"/><path class="v" d="M567,521h38"/><text class="h" x="586" y="519">PRO_ADJ</text><text class="r" y="526"><tspan x="586">num_proy_fed</tspan><tspan x="586" dy="5">num_obra_fed</tspan><tspan x="586" dy="5">clave_adj</tspan><tspan x="586" dy="5">tipo_adj</tspan><tspan x="586" dy="5">b_ano1</tspan><tspan x="586" dy="5">b_ano2</tspan><tspan x="586" dy="5">b_ano3</tspan><tspan x="586" dy="5">b_ano4</tspan><tspan x="586" dy="5">monto_adj</tspan><tspan x="586" dy="5">fecha_adj</tspan></text></g>
<g id="de_de_lamas"><rect class="b" x="622" y="526" width="39" height="48"/><path class="v" d="M622,534h39"/><text class="h" x="641.5" y="532">DE_DE_LAMAS</text><text class="r" y="539"><tspan x="641.5">num_proy_fed</tspan><tspan x="641.5" dy="5">b_ano1</tspan><tspan x="641.5" dy="5">b_ano2</tspan><tspan x="641.5" dy="5">b_ano3</tspan><tspan x="641.5" dy="5">b_ano4</tspan><tspan x="641.5" dy="5">monto_total</tspan><tspan x="641.5" dy="5">fecha_mod</tspan></text></g>
<g id="permiso_sub"><rect class="b" x="567" y="605" width="37" height="92"/><path class="v" d="M567,613h37"/><text class="h" x="585.5" y="611">PERMISO_SUB</text><text class="r" y="618"><tspan x="585.5">num_proy_fed</tspan><tspan x="585.5" dy="5">ano</tspan><tspan x="585.5" dy="5">num_obra_fed</tspan><tspan x="585.5" dy="5">ano</tspan><tspan x="585.5" dy="5">num_perm</tspan><tspan x="585.5" dy="5">clave_perm</tspan><tspan x="585.5" dy="5">desc_perm</tspan><tspan x="585.5" dy="5">tipo_perm</tspan><tspan x="585.5" dy="5">fecha_perm</tspan><tspan x="585.5" dy="5">fecha_venc</tspan><tspan x="585.5" dy="5">monto_perm</tspan><tspan x="585.5" dy="5">estatus</tspan><tspan x="585.5" dy="5">fecha_mod</tspan><tspan x="585.5" dy="5">observaciones</tspan><tspan x="585.5" dy="5">usuario</tspan></text></g>
<g id="pro_ad_aos"><rect class="b" x="620" y="623" width="39" height="66"/><path class="v" d="M620,631h39"/><text class="h" x="639.5" y="629">PRO_AD_AOS</text><text class="r" y="636"><tspan x="639.5">num_proy_fed</tspan><tspan x="639.5" dy="5">ano</tspan><tspan x="639.5" dy="5">num_obra_fed</tspan><tspan x="639.5" dy="5">ano_ant</tspan><tspan x="639.5" dy="5">b_ano1</tspan><tspan x="639.5" dy="5">b_ano2</tspan><tspan x="639.5" dy="5">b_ano3</tspan><tspan x="639.5" dy="5">monto_ad</tspan><tspan x="639.5" dy="5">fecha_mod</tspan><tspan x="639.5" dy="5">estatus</tspan></text></g>

<text class="cap" x="370" y="744">Figura IV.2.</text>
</svg>
